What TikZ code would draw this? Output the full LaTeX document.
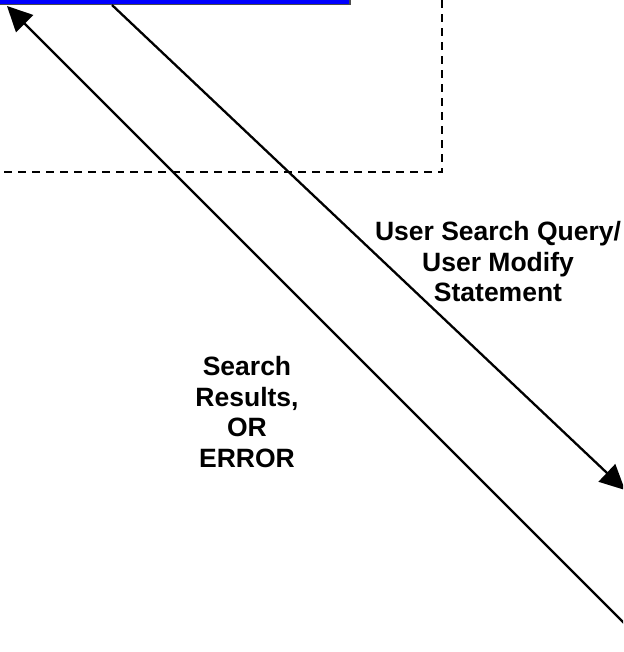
\documentclass[tikz,border=0pt]{standalone}
\usepackage{fontspec}
\setmainfont{Liberation Sans}
\usetikzlibrary{arrows.meta}

\begin{document}
\begin{tikzpicture}[x=1pt,y=-1pt,>={Triangle[length=25pt,width=24pt]},line width=2.3pt,
	font=\bfseries\fontsize{26.5}{30.5}\selectfont]
	\useasboundingbox (0,0) rectangle (623,652);
	\clip (0,0) rectangle (623,652);
	\draw [line width=1.6pt,dash pattern=on 8pt off 6pt] (-10,172) -- (442,172) -- (442,-10);
	\node [minimum width=380pt,minimum height=40pt,inner sep=0pt,outer sep=0pt,draw=black!70,line width=1.5pt,fill=blue,anchor=south west] at (-30,4.5) (Client) {};
	\coordinate (QueryStart) at (112,5);
	\coordinate (QueryEnd) at (625,490);
	\coordinate (ResultStart) at (626,625);
	\coordinate (ResultEnd) at (7,6);
	\draw [->] (QueryStart) -- (QueryEnd);
	\draw [->] (ResultStart) -- (ResultEnd);
	\node [align=center] at (498,262) (QueryLabel) {User Search Query/\\User Modify\\Statement};
	\node [align=center] at (247,412) (ResultLabel) {Search\\Results,\\OR\\ERROR};
\end{tikzpicture}
\end{document}
